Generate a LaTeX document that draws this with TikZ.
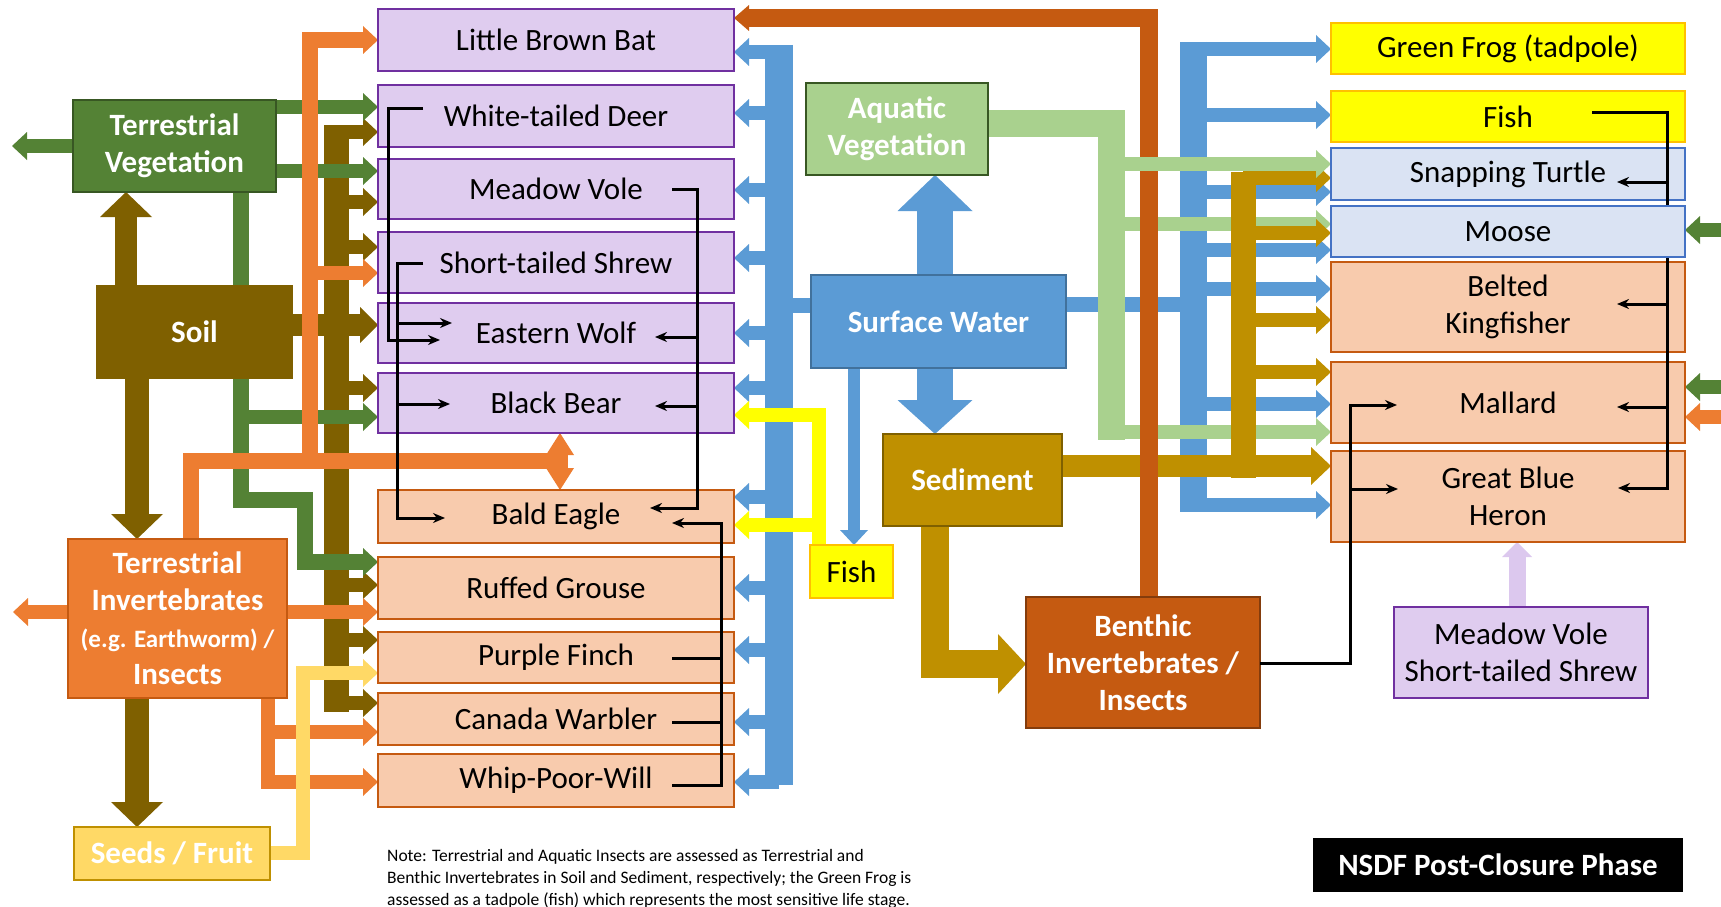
\documentclass[tikz,border=0pt]{standalone}
\usepackage{fontspec}
\setmainfont{Carlito}
\usetikzlibrary{arrows.meta,positioning}
\definecolor{tvegc}{HTML}{548235}
\definecolor{tvegdk}{HTML}{385723}
\definecolor{soilc}{HTML}{7F6000}
\definecolor{tinvc}{HTML}{ED7D31}
\definecolor{tinvdk}{HTML}{C55A11}
\definecolor{seedc}{HTML}{FFD966}
\definecolor{seeddk}{HTML}{BF9000}
\definecolor{purp}{HTML}{DFCCEF}
\definecolor{purpdk}{HTML}{7030A0}
\definecolor{peach}{HTML}{F8CBAD}
\definecolor{peachdk}{HTML}{C55A11}
\definecolor{swc}{HTML}{5B9BD5}
\definecolor{swdk}{HTML}{41719C}
\definecolor{avc}{HTML}{A9D18E}
\definecolor{sedc}{HTML}{BF9000}
\definecolor{benc}{HTML}{C55A11}
\definecolor{bendk}{HTML}{843C0C}
\definecolor{yelc}{HTML}{FFFF00}
\definecolor{yeldk}{HTML}{FFC000}
\definecolor{lblue}{HTML}{DAE3F3}
\definecolor{lbluedk}{HTML}{4472C4}
\definecolor{lpurp}{HTML}{DCC8EE}
\pgfdeclarelayer{bg}
\pgfdeclarelayer{fg}
\pgfdeclarelayer{top}
\pgfsetlayers{bg,main,fg,top}

\begin{document}
\begin{tikzpicture}[
    x=1pt, y=-1pt,
    box/.style={draw, line width=2.5pt, inner sep=0pt, outer sep=0pt, align=center,
        font=\fontsize{31}{37}\selectfont},
    wbox/.style={box, text=white, font=\bfseries\fontsize{31}{37}\selectfont},
    animal/.style={box, fill=purp, draw=purpdk, minimum width=356},
    bird/.style={box, fill=peach, draw=peachdk, minimum width=356},
    pond/.style={box, fill=yelc, draw=yeldk, minimum width=354},
    shore/.style={box, fill=lblue, draw=lbluedk, minimum width=354},
    flow/.style={line width=14pt, -{Triangle[length=15pt,width=28pt,line width=0pt]}},
    bigflow/.style={line width=24pt, -{Triangle[length=25pt,width=52pt,line width=0pt]}},
    feed/.style={line width=3pt, black, -{Stealth[length=12pt,width=10pt]}},
    wire/.style={line width=3pt, black}
    ]
    \useasboundingbox (0,0) rectangle (1721,907);

    \node[wbox, fill=tvegc, draw=tvegdk, minimum width=203, minimum height=92] (tveg) at (174.5,146) {Terrestrial\\Vegetation};
    \node[wbox, fill=soilc, draw=soilc, minimum width=195, minimum height=92] (soil) at (194.5,332) {Soil};
    \node[wbox, fill=tinvc, draw=tinvdk, minimum width=219, minimum height=159] (tinv) at (177.5,618.5)
        {Terrestrial\\Invertebrates\\{\fontsize{25}{33}\selectfont(e.g. Earthworm) /}\\Insects};
    \node[wbox, fill=seedc, draw=seeddk, minimum width=196, minimum height=53] (seeds) at (172,853.5) {Seeds / Fruit};

    \node[animal, minimum height=62] (lbb) at (556,40) {Little Brown Bat};
    \node[animal, minimum height=62, below=14pt of lbb] (wd) {White-tailed Deer};
    \node[animal, minimum height=60, below=12pt of wd] (mv) {Meadow Vole};
    \node[animal, minimum height=61, below=13pt of mv] (sts) {Short-tailed Shrew};
    \node[animal, minimum height=60, below=10pt of sts] (ew) {Eastern Wolf};
    \node[animal, minimum height=60, below=10pt of ew] (bb) {Black Bear};
    \node[bird, minimum height=53, below=57pt of bb] (be) {Bald Eagle};
    \node[bird, minimum height=62, below=14pt of be] (rg) {Ruffed Grouse};
    \node[bird, minimum height=51, below=13pt of rg] (pf) {Purple Finch};
    \node[bird, minimum height=52, below=10pt of pf] (cw) {Canada Warbler};
    \node[bird, minimum height=53, below=9pt of cw] (wpw) {Whip-Poor-Will};

    \node[wbox, fill=avc, draw=tvegdk, minimum width=182, minimum height=92] (aveg) at (897,129) {Aquatic\\Vegetation};
    \node[wbox, fill=swc, draw=swdk, minimum width=255, minimum height=93] (sw) at (938.5,321.5) {Surface Water};
    \node[wbox, fill=sedc, draw=soilc, minimum width=179, minimum height=92] (sed) at (972.5,480) {Sediment};
    \node[box, fill=yelc, draw=yeldk, minimum width=83, minimum height=53] (fishl) at (851.5,571.5) {Fish};
    \node[wbox, fill=benc, draw=bendk, minimum width=234, minimum height=131] (benth) at (1143,662.5) {Benthic\\Invertebrates /\\Insects};

    \node[pond, minimum height=51] (frog) at (1508,48.5) {Green Frog (tadpole)};
    \node[pond, minimum height=51, below=17pt of frog] (fishr) {Fish};
    \node[shore, minimum height=52, below=6pt of fishr] (turtle) {Snapping Turtle};
    \begin{pgfonlayer}{top}
    \node[shore, minimum height=51, below=6pt of turtle] (moose) {Moose};
    \end{pgfonlayer}
    \node[bird, minimum width=354, minimum height=90, below=5pt of moose] (kingf) {Belted\\Kingfisher};
    \node[bird, minimum width=354, minimum height=81, below=10pt of kingf] (mallard) {Mallard};
    \node[bird, minimum width=354, minimum height=91, below=8pt of mallard] (heron) {Great Blue\\Heron};
    \node[animal, minimum width=254, minimum height=91] (volshrew) at (1521,652.5) {Meadow Vole\\Short-tailed Shrew};

    \node[fill=black, text=white, inner sep=0pt, minimum width=370, minimum height=54,
        font=\bfseries\fontsize{31}{37}\selectfont] (phase) at (1498,865) {NSDF Post-Closure Phase};
    \node[anchor=north west, align=left, inner sep=0pt, font=\fontsize{17.5}{22}\selectfont] (note) at (387,849)
        {Note: Terrestrial and Aquatic Insects are assessed as Terrestrial and\\
         Benthic Invertebrates in Soil and Sediment, respectively; the Green Frog is\\
         assessed as a tadpole (fish) which represents the most sensitive life stage.};

    \begin{pgfonlayer}{bg}
    % soil
    \draw[soilc, line width=25pt] (336,125) -- (336,712);
    \foreach \y/\nd in {132/wd,202/mv,247/sts,388/bb,585/rg,640/pf,703/cw}
        \draw[flow, soilc] (336,\y) -- (\nd.west |- 0,\y);
    \draw[flow, soilc, line width=22pt, -{Triangle[length=18pt,width=36pt,line width=0pt]}] (soil.east |- 0,325) -- (ew.west |- 0,325);
    \draw[bigflow, soilc, line width=22pt] (soil.north -| 126,0) -- (tveg.south -| 126,0);
    \draw[bigflow, soilc] (soil.south -| 137,0) -- (tinv.north -| 137,0);
    \draw[bigflow, soilc] (tinv.south -| 137,0) -- (seeds.north -| 137,0);
    % terrestrial vegetation
    \draw[flow, tvegc, line width=16pt] (tveg.south -| 241,0) -- (241,500) -- (305,500) -- (305,562) -- (rg.west |- 0,562);
    \draw[flow, tvegc] (241,417) -- (bb.west |- 0,417);
    \draw[flow, tvegc] (tveg.east |- 0,107) -- (wd.west |- 0,107);
    \draw[flow, tvegc] (tveg.east |- 0,171) -- (mv.west |- 0,171);
    \draw[flow, tvegc] (tveg.west) -- (12,146);
    % terrestrial invertebrates
    \draw[tinvc, line width=16pt] (tinv.north -| 191,0) -- (191,461) -- (568,461);
    \draw[flow, tinvc, line width=16pt] (310,461) -- (310,40) -- (lbb.west |- 0,40);
    \draw[flow, tinvc] (310,273) -- (sts.west |- 0,273);
    \draw[tinvc, line width=16pt, {Triangle[length=22pt,width=28pt,line width=0pt]}-{Triangle[length=22pt,width=28pt,line width=0pt]}]
        (bb.south -| 560,0) -- (be.north -| 560,0);
    \draw[flow, tinvc] (tinv.east |- 0,612) -- (rg.west |- 0,612);
    \draw[flow, tinvc] (tinv.south -| 268,0) -- (268,782) -- (wpw.west |- 0,782);
    \draw[flow, tinvc] (268,732) -- (cw.west |- 0,732);
    \draw[flow, tinvc] (tinv.west |- 0,612) -- (13,612);
    % seeds
    \draw[flow, seedc] (seeds.east |- 0,853) -- (303,853) -- (303,673) -- (pf.west |- 0,673);
    % surface water, left
    \draw[swc, line width=28pt] (779,45) -- (779,785);
    \draw[swc, line width=15pt] (sw.west |- 0,305) -- (779,305);
    \foreach \y/\nd in {52/lbb,113/wd,190/mv,258/sts,333/ew,388/bb,497/be,588/rg,650/pf,722/cw,782/wpw}
        \draw[flow, swc] (779,\y) -- (\nd.east |- 0,\y);
    % fish
    \draw[flow, yelc] (fishl.north -| 819,0) -- (819,415) -- (bb.east |- 0,415);
    \draw[flow, yelc] (819,525) -- (be.east |- 0,525);
    \draw[flow, swc, line width=12pt] (sw.south -| 854,0) -- (fishl.north -| 854,0);
    \draw[swc, line width=36pt, -{Triangle[length=36pt,width=75pt,line width=0pt]}] (sw.north -| 935,0) -- (aveg.south -| 935,0);
    \draw[swc, line width=36pt, -{Triangle[length=34pt,width=75pt,line width=0pt]}] (sw.south -| 935,0) -- (sed.north -| 935,0);
    \draw[sedc, line width=28pt, -{Triangle[length=28pt,width=60pt,line width=0pt]}] (sed.south -| 935,0) -- (935,664) -- (benth.west |- 0,664);
    % surface water, right
    \draw[swc, line width=15pt] (sw.east |- 0,304) -- (1193,304);
    \draw[swc, line width=27pt] (1193,42) -- (1193,512);
    \foreach \y/\nd in {49/frog,115/fishr,192/turtle,250/moose,289/kingf,404/mallard,505/heron}
        \draw[flow, swc] (1193,\y) -- (\nd.west |- 0,\y);
    % aquatic vegetation
    \draw[avc, line width=27pt] (aveg.east |- 0,123) -- (1111,123) -- (1111,440);
    \foreach \y/\nd in {224/moose,432/mallard}
        \draw[flow, avc] (1111,\y) -- (\nd.west |- 0,\y);
    % sediment
    \draw[sedc, line width=25pt] (1243,172) -- (1243,478);
    \draw[flow, sedc, line width=22pt, -{Triangle[length=20pt,width=38pt,line width=0pt]}] (sed.east |- 0,466) -- (heron.west |- 0,466);
    \foreach \y/\nd in {178/turtle,233/moose,320/kingf,372/mallard}
        \draw[flow, sedc] (1243,\y) -- (\nd.west |- 0,\y);
    % benthic
    \draw[flow, benc, line width=18pt, -{Triangle[length=15pt,width=26pt,line width=0pt]}] (benth.north -| 1149,0) -- (1149,18) -- (lbb.east |- 0,18);
    \draw[flow, avc] (1111,164) -- (turtle.west |- 0,164);
    % from outside
    \draw[flow, tvegc] (1721,230) -- (moose.east |- 0,230);
    \draw[flow, tvegc] (1721,387) -- (mallard.east |- 0,387);
    \draw[flow, tinvc] (1721,417) -- (mallard.east |- 0,417);
    \draw[flow, lpurp, line width=17pt, -{Triangle[length=15pt,width=30pt,line width=0pt]}] (volshrew.north -| 1517,0) -- (heron.south -| 1517,0);
    \end{pgfonlayer}

    \begin{pgfonlayer}{fg}
    \draw[feed] (423,108) -- (388,108) -- (388,340) -- (440,340);
    \draw[feed] (423,263) -- (397,263) -- (397,518) -- (445,518);
    \draw[feed] (397,323) -- (452,323);
    \draw[feed] (397,404) -- (450,404);
    \draw[feed] (672,189) -- (697,189) -- (697,508) -- (650,508);
    \draw[feed] (697,337) -- (655,337);
    \draw[feed] (697,406) -- (655,406);
    \draw[feed] (672,785) -- (721,785) -- (721,523) -- (672,523);
    \draw[wire] (672,658) -- (721,658);
    \draw[wire] (672,722) -- (721,722);
    \draw[feed] (1592,112) -- (1667,112) -- (1667,488) -- (1618,488);
    \foreach \y in {182,304,407}
        \draw[feed] (1667,\y) -- (1617,\y);
    \draw[feed] (benth.east |- 0,663) -- (1350,663) -- (1350,405) -- (1397,405);
    \draw[feed] (1350,489) -- (1398,489);
    \end{pgfonlayer}
\end{tikzpicture}
\end{document}
